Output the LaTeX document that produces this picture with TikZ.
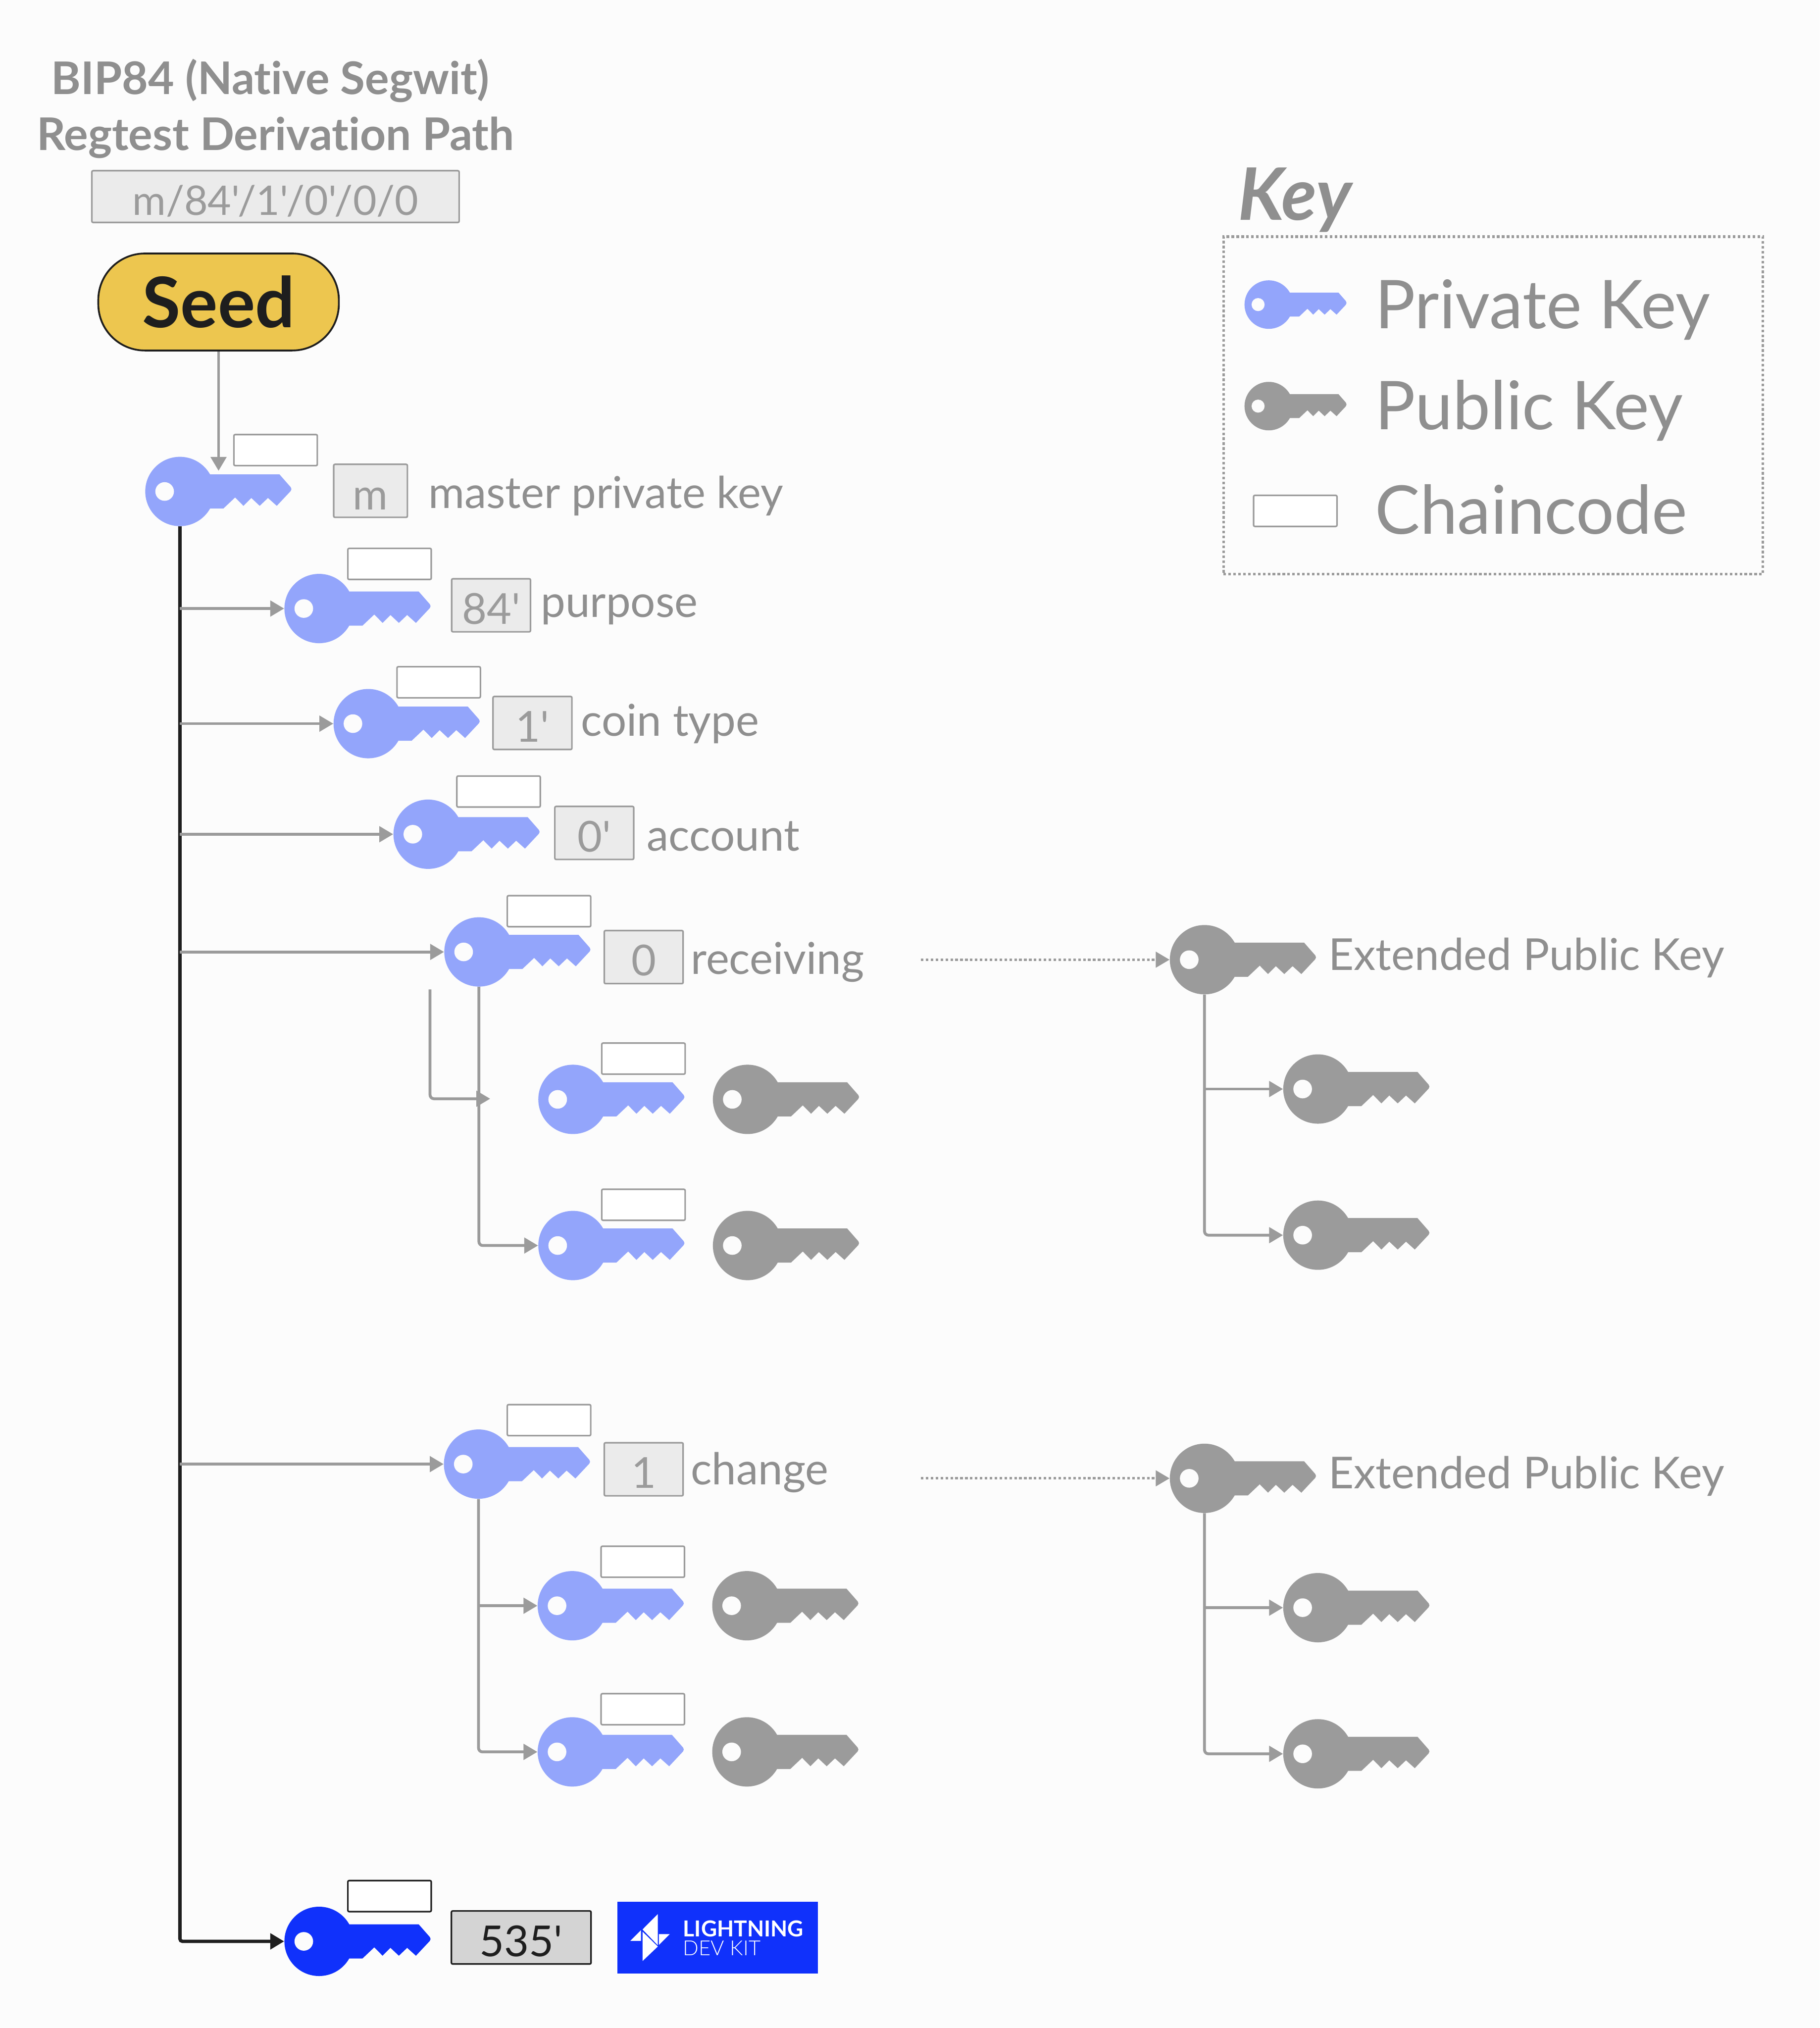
\documentclass[tikz,border=0pt]{standalone}
\usepackage{fontspec}
\setmainfont{Lato}[Ligatures=NoCommon]
\newfontfamily\stepfont{Lato}[Ligatures=NoCommon]
\newfontfamily\lightfont{Lato Light}
\usepackage{tikz}
\usetikzlibrary{calc,arrows.meta,positioning}
\definecolor{bg-page}{HTML}{FCFCFC}
\definecolor{key-priv}{HTML}{93A5FB}
\definecolor{key-pub}{HTML}{9B9B9B}
\definecolor{key-ldk}{HTML}{1031FB}
\definecolor{link-grey}{HTML}{9B9B9B}
\definecolor{text-grey}{HTML}{8F8F8F}
\definecolor{box-grey}{HTML}{EBEBEB}
\definecolor{box-dark}{HTML}{D4D4D4}
\definecolor{seed-gold}{HTML}{EDC64F}
\definecolor{ink}{HTML}{1E1E1E}

\begin{document}
\begin{tikzpicture}[x=1pt, y=-1pt,
    pics/keyshape/.style={code={
        \node[circle, fill=#1, minimum size=53.6pt, inner sep=0pt, transform shape] (-head) at (0,0) {};
        \fill[#1] (20,-13.2) -- (77,-13.2) [rounded corners=2pt] -- (87,-1.8) [sharp corners] -- (74.9,11.1) -- (68.1,5) -- (61.7,11.1)
            -- (55.2,5) -- (49.1,11.1) -- (42.7,4.6) -- (33.6,13.2) -- (20,13.2) -- cycle;
        \fill[bg-page] (-11.8,0) circle[radius=7.2];
    }},
    chainbox/.style={draw=link-grey, fill=white, line width=1.2pt, rounded corners=1pt, minimum width=64.5pt, minimum height=24pt, inner sep=0pt},
    stepbox/.style={draw=link-grey, fill=box-grey, line width=1.2pt, rounded corners=1pt, inner sep=0pt, text=link-grey, font=\stepfont\fontsize{33}{33}\selectfont, text height=29pt, text depth=0pt, minimum width=61pt, minimum height=41pt},
    keytext/.style={text=text-grey, inner sep=0pt, anchor=base west, font=\fontsize{34}{34}\selectfont},
    legendtext/.style={text=text-grey, inner sep=0pt, anchor=base west, font=\fontsize{52}{52}\selectfont},
    titletext/.style={text=text-grey, inner sep=0pt, anchor=base, font=\bfseries\fontsize{34.8}{34.8}\selectfont},
    branch/.style={draw=link-grey, line width=2.2pt, rounded corners=3pt, -{Triangle[length=10.7pt,width=12pt]}},
    trunk/.style={draw=ink, line width=2.6pt, rounded corners=2pt, -{Triangle[length=10.7pt,width=12pt]}},
    dotlink/.style={draw=link-grey, line width=2pt, dash pattern=on 2pt off 1.8pt, -{Triangle[length=10.7pt,width=12pt]}},
]
    \useasboundingbox (0,0) rectangle (1407,1568);
    \fill[bg-page] (0,0) rectangle (1407,1568);

    % heading
    \node[titletext] (title1) at (209,73) {BIP84 (Native Segwit)};
    \node[titletext] (title2) at (213,116) {Regtest Derivation Path};
    \node[stepbox, minimum width=284pt, minimum height=40pt, font=\stepfont\fontsize{31.5}{31.5}\selectfont] (path) at (213,152) {m/84'/1'/0'/0/0};
    \node[draw=ink, fill=seed-gold, line width=1.4pt, rounded corners=36pt, minimum width=186pt, minimum height=75pt, inner sep=0pt, text=ink, font=\bfseries\fontsize{54}{54}\selectfont] (seed) at (169,233.5) {Seed};

    % private keys on the main path
    \pic (mk) at (139.1,380) {keyshape=key-priv};
    \pic (pk) at (246.7,470.5) {keyshape=key-priv};
    \pic (ck) at (284.7,559.5) {keyshape=key-priv};
    \pic (ak) at (331,645) {keyshape=key-priv};
    \pic (rk) at (370.3,736) {keyshape=key-priv};
    \pic (sk) at (370,1132) {keyshape=key-priv};
    \pic (lk) at (246.7,1501) {keyshape=key-ldk};

    % receiving children
    \pic (r1) at (443,850) {keyshape=key-priv};
    \pic (r2) at (443,963) {keyshape=key-priv};
    \pic (r1p) at (578,850) {keyshape=key-pub};
    \pic (r2p) at (578,963) {keyshape=key-pub};

    % change children
    \pic (s1) at (442.5,1241.5) {keyshape=key-priv};
    \pic (s2) at (442.5,1354.5) {keyshape=key-priv};
    \pic (s1p) at (577.5,1241.5) {keyshape=key-pub};
    \pic (s2p) at (577.5,1354.5) {keyshape=key-pub};

    % extended public keys
    \pic (xr) at (931.3,742) {keyshape=key-pub};
    \pic (xr1) at (1019,842) {keyshape=key-pub};
    \pic (xr2) at (1019,955) {keyshape=key-pub};
    \pic (xs) at (931.3,1143) {keyshape=key-pub};
    \pic (xs1) at (1019,1243) {keyshape=key-pub};
    \pic (xs2) at (1019,1356) {keyshape=key-pub};

    % chaincodes
    \node[chainbox] (mc) at ($(mk-head)+(74,-32)$) {};
    \node[chainbox] (pc) at ($(pk-head)+(54.5,-34.5)$) {};
    \node[chainbox] (cc) at ($(ck-head)+(54.5,-32)$) {};
    \node[chainbox] (ac) at ($(ak-head)+(54.5,-33)$) {};
    \node[chainbox] (rc) at ($(rk-head)+(54.2,-31.5)$) {};
    \node[chainbox] (sc) at ($(sk-head)+(54.5,-34)$) {};
    \node[chainbox] (r1c) at ($(r1-head)+(54.5,-31.5)$) {};
    \node[chainbox] (r2c) at ($(r2-head)+(54.5,-31.5)$) {};
    \node[chainbox] (s1c) at ($(s1-head)+(54.5,-34)$) {};
    \node[chainbox] (s2c) at ($(s2-head)+(54.5,-33)$) {};
    \node[chainbox, draw=ink] (lc) at ($(lk-head)+(54.5,-35)$) {};

    % path steps and their names
    \node[stepbox, minimum width=57pt] (mstep) at (286.5,379.5) {m};
    \node[stepbox] (pstep) at (379.7,468) {84'};
    \node[stepbox] (cstep) at (411.7,559) {1'};
    \node[stepbox] (astep) at (459.5,644) {0'};
    \node[stepbox] (rstep) at (497.7,740) {0};
    \node[stepbox] (sstep) at (497.7,1136) {1};
    \node[stepbox, draw=ink, fill=box-dark, text=ink, minimum width=108pt] (lstep) at (403,1498) {535'};
    \node[keytext] (mname) at (331,393) {master private key};
    \node[keytext] (pname) at (418,477) {purpose};
    \node[keytext] (cname) at (449,569) {coin type};
    \node[keytext] (aname) at (500,658) {account};
    \node[keytext] (rname) at (534,753) {receiving};
    \node[keytext] (sname) at (534,1148) {change};
    \node[keytext] (xrname) at (1027,750) {Extended Public Key};
    \node[keytext] (xsname) at (1027,1151) {Extended Public Key};

    % connectors
    \coordinate (mtip) at (169,364);
    \draw[branch] (seed) -- (mtip);
    \draw[trunk] (mk-head) |- (lk-head);
    \draw[branch] (mk-head |- pk-head) -- (pk-head);
    \draw[branch] (mk-head |- ck-head) -- (ck-head);
    \draw[branch] (mk-head |- ak-head) -- (ak-head);
    \draw[branch] (mk-head |- rk-head) -- (rk-head);
    \draw[branch] (mk-head |- sk-head) -- (sk-head);
    \coordinate (rstart) at (332.5,765);
    \coordinate (rmid) at (379,849.5);
    \draw[branch] (rstart) |- (rmid);
    \draw[branch] (rk-head) |- (r2-head);
    \draw[branch] (sk-head) |- (s2-head);
    \draw[branch] (sk-head |- s1-head) -- (s1-head);
    \draw[branch] (xr-head) |- (xr2-head);
    \draw[branch] (xr-head |- xr1-head) -- (xr1-head);
    \draw[branch] (xs-head) |- (xs2-head);
    \draw[branch] (xs-head |- xs1-head) -- (xs1-head);
    \coordinate (xrstart) at (712,742);
    \coordinate (xsstart) at (712,1143);
    \draw[dotlink] (xrstart) -- (xr-head);
    \draw[dotlink] (xsstart) -- (xs-head);

    % legend
    \node[text=text-grey, inner sep=0pt, anchor=base west, font=\bfseries\itshape\fontsize{56}{56}\selectfont] (legendtitle) at (957,170) {Key};
    \node[draw=link-grey, line width=2pt, dash pattern=on 2pt off 1.8pt, minimum width=417pt, minimum height=261pt, inner sep=0pt] (legend) at (1154.5,313.5) {};
    \pic[scale=.7] (legpriv) at (981,235.5) {keyshape=key-priv};
    \pic[scale=.7] (legpub) at (981,314) {keyshape=key-pub};
    \node[chainbox] (legchain) at (1001.5,395) {};
    \node[legendtext] (legprivname) at (1063,254) {Private Key};
    \node[legendtext] (legpubname) at (1063,332) {Public Key};
    \node[legendtext] (legchainname) at (1063,413) {Chaincode};

    % logo
    \node[fill=key-ldk, minimum width=155pt, minimum height=55.5pt, inner sep=0pt] (logo) at (555,1498) {};
    \fill[white] (508.6,1479.9) -- (508.6,1504) -- (496.8,1491.8) -- cycle;
    \fill[white] (509.5,1495.4) -- (517.8,1495.4) -- (509.5,1503.7) -- cycle;
    \fill[white] (495.6,1492.4) -- (487.3,1500.7) -- (495.6,1500.7) -- cycle;
    \fill[white] (496.8,1493.5) -- (508.6,1505) -- (496.8,1516.2) -- cycle;
    \node[text=white, inner sep=0pt, anchor=base west, font=\bfseries\fontsize{17}{17}\selectfont] (logotop) at (528,1497.5) {LIGHTNING};
    \node[text=white, inner sep=0pt, anchor=base west, font=\lightfont\fontsize{16}{16}\selectfont] (logobottom) at (528,1512) {DEV KIT};
\end{tikzpicture}
\end{document}
